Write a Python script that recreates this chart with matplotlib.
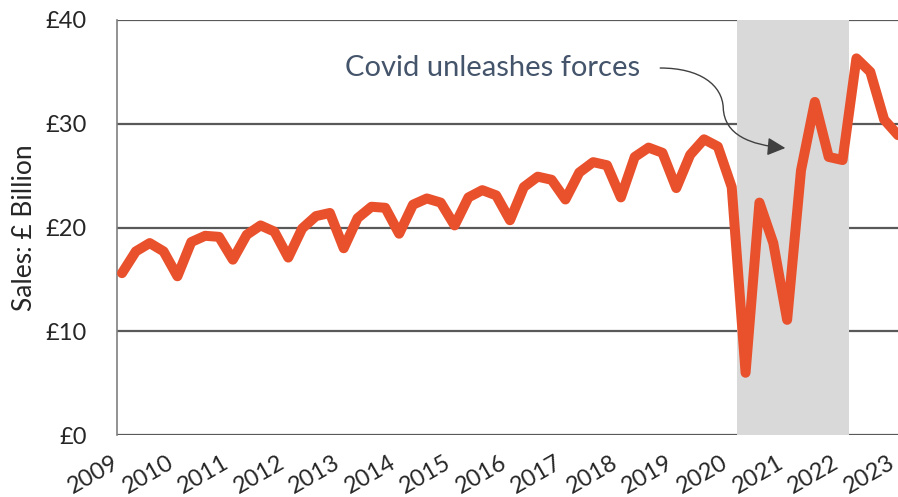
import numpy as np
import matplotlib.pyplot as plt
from matplotlib.path import Path
from matplotlib.patches import FancyArrowPatch

plt.rcParams['font.family'] = ['Lato', 'DejaVu Sans']

# Quarterly retail sales, £ billion (2009 Q1 to 2023 Q1)
sales = [
    15.6, 17.7, 18.5, 17.7,   # 2009
    15.3, 18.6, 19.2, 19.1,   # 2010
    16.9, 19.3, 20.2, 19.6,   # 2011
    17.1, 19.9, 21.1, 21.4,   # 2012
    18.0, 20.9, 22.0, 21.9,   # 2013
    19.4, 22.2, 22.8, 22.4,   # 2014
    20.2, 22.9, 23.6, 23.1,   # 2015
    20.7, 23.9, 24.9, 24.6,   # 2016
    22.7, 25.3, 26.3, 26.0,   # 2017
    22.9, 26.8, 27.7, 27.2,   # 2018
    23.8, 27.0, 28.5, 27.8,   # 2019
    23.9, 6.0, 22.4, 18.5,    # 2020
    11.1, 25.5, 32.1, 26.8,   # 2021
    26.5, 36.3, 35.0, 30.4,   # 2022
    28.9,                     # 2023
]
years = [str(y) for y in range(2009, 2024)]
yticks = [0, 10, 20, 30, 40]
ytick_labels = ['£0', '£10', '£20', '£30', '£40']
covid_start, covid_end = 44.4, 52.5   # 2020 Q2 to 2022 Q1

x = np.arange(len(sales))

fig = plt.figure(figsize=(8.98, 4.97), dpi=100)
ax = fig.add_axes([0.1303, 0.1247, 0.8697, 0.8351])

ax.axvspan(covid_start, covid_end, color='#D9D9D9', zorder=2, lw=0)
ax.plot(x, sales, color='#E9512D', lw=7.2, solid_joinstyle='round',
        solid_capstyle='round', zorder=3, clip_on=False)

ax.set_xlim(-0.36, len(sales) - 1)
ax.set_ylim(0, 40)
ax.set_yticks(yticks)
ax.set_yticklabels(ytick_labels)
ax.set_xticks(x[::4])
ax.set_xticklabels(years)
ax.yaxis.grid(True, color='#595959', lw=1.6, zorder=1)
ax.set_axisbelow(True)

for side in ['top', 'right', 'bottom']:
    ax.spines[side].set_visible(False)
ax.spines['left'].set_color('#7F7F7F')
ax.spines['left'].set_linewidth(1.2)

ax.tick_params(axis='y', length=0, pad=22, labelsize=17, labelcolor='#262626')
ax.tick_params(axis='x', length=0, pad=12, labelsize=17, labelcolor='#262626')
plt.setp(ax.get_xticklabels(), rotation=30, ha='right')
ax.set_ylabel('Sales: £ Billion', fontsize=19, color='#262626', labelpad=6)

ax.text(16.1, 35.4, 'Covid unleashes forces', fontsize=21, color='#44546A',
        ha='left', va='center')

# curved pointer from the caption into the shaded covid period
verts = [(38.84, 35.37), (41.73, 35.37), (43.32, 33.73), (43.39, 31.52),
         (43.47, 28.92), (45.34, 27.95), (47.87, 27.66)]
codes = [Path.MOVETO] + [Path.CURVE4] * 6
arrow = FancyArrowPatch(path=Path(verts, codes),
                        arrowstyle='-|>,head_length=1.1,head_width=0.55',
                        mutation_scale=10, color='#404040', lw=1.0, zorder=4)
ax.add_patch(arrow)

fig.savefig('out.png', dpi=100)
